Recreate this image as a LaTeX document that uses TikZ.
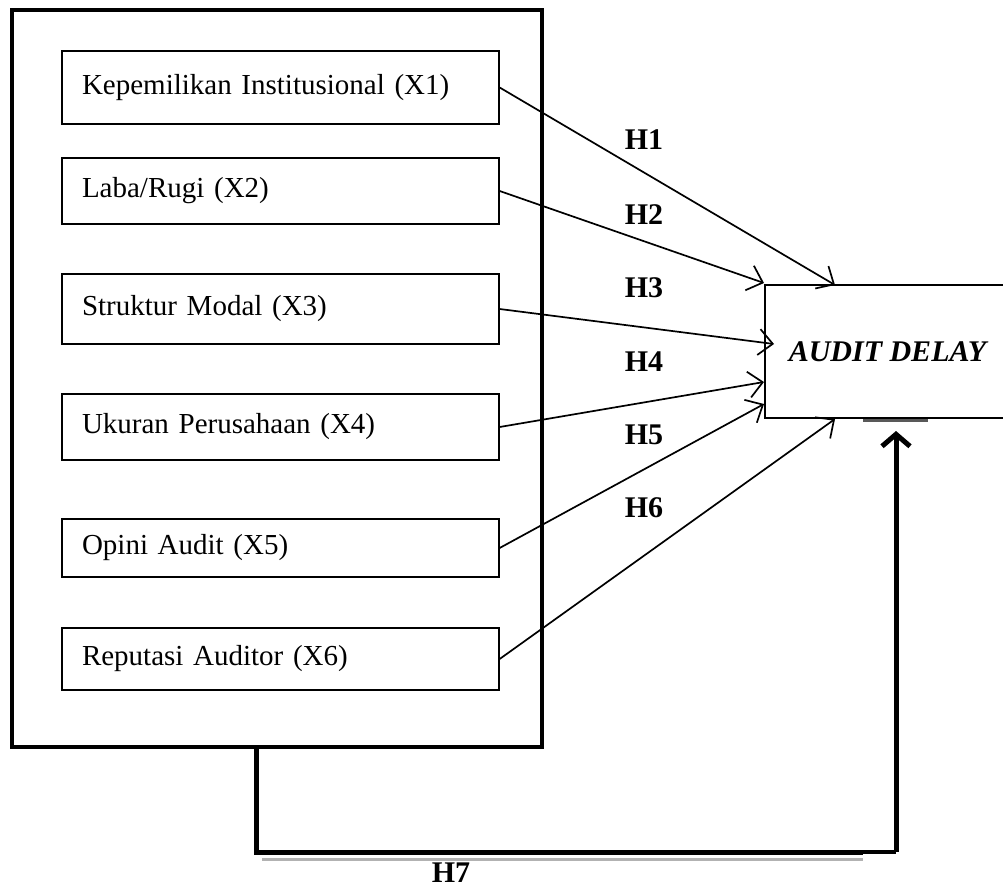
\documentclass[tikz,border=0pt]{standalone}
\usepackage{fontspec}
\setmainfont{Liberation Serif}
\usetikzlibrary{arrows.meta}
\begin{document}
\begin{tikzpicture}[x=1pt,y=-1pt,
  varbox/.style={draw,line width=1.3pt,minimum width=437pt,inner sep=0pt,
    text width=397pt,align=left,font=\fontsize{29}{33}\selectfont},
  hyp/.style={font=\fontsize{30}{34}\selectfont\bfseries},
  thinarrow/.style={line width=1.7pt,-{Straight Barb[length=14pt,width=26pt]}},
  bigarrow/.style={line width=5pt,-{Straight Barb[length=12pt,width=28pt]}}]
\useasboundingbox (0,0) rectangle (1003,890);
% outer frame
\node[draw,line width=4.5pt,minimum width=530pt,minimum height=737pt,inner sep=0pt] (frame) at (277,378.5) {};
% variable boxes
\node[varbox,minimum height=73pt] (b1) at (280.5,87.5) {Kepemilikan Institusional (X1)};
\node[varbox,minimum height=66pt] (b2) at (280.5,191) {Laba/Rugi (X2)};
\node[varbox,minimum height=70pt] (b3) at (280.5,309) {Struktur Modal (X3)};
\node[varbox,minimum height=66pt] (b4) at (280.5,427) {Ukuran Perusahaan (X4)};
\node[varbox,minimum height=58pt] (b5) at (280.5,548) {Opini Audit (X5)};
\node[varbox,minimum height=62pt] (b6) at (280.5,659) {Reputasi Auditor (X6)};
% dependent variable
\node[draw,line width=1.5pt,minimum width=245pt,minimum height=133pt,inner sep=0pt,
  font=\fontsize{30}{34}\selectfont\bfseries\itshape] (ad) at (887.5,351.5) {AUDIT DELAY};
\draw[gray!70!black,line width=3pt] (863,420.5) -- (928,420.5);
% arrow end points
\coordinate (e1) at (835,285);
\coordinate (e2) at (764,283);
\coordinate (e3) at (774,344);
\coordinate (e4) at (764,382);
\coordinate (e5) at (764,404);
\coordinate (e6) at (835,419);
\draw[thinarrow] (b1.east) -- (e1);
\draw[thinarrow] (b2.east) -- (e2);
\draw[thinarrow] (b3.east) -- (e3);
\draw[thinarrow] (b4.east) -- (e4);
\draw[thinarrow] (b5.east) -- (e5);
\draw[thinarrow] (b6.east) -- (e6);
% hypothesis labels
\node[hyp] (h1) at (644,140) {H1};
\node[hyp] (h2) at (644,215) {H2};
\node[hyp] (h3) at (644,288) {H3};
\node[hyp] (h4) at (644,362) {H4};
\node[hyp] (h5) at (644,435) {H5};
\node[hyp] (h6) at (644,508) {H6};
% H7 path
\coordinate (s7) at (256,747);
\coordinate (c1) at (256,852);
\coordinate (c2) at (863,852);
\coordinate (c3) at (896,852);
\coordinate (t7) at (896,431);
\draw[gray!60,line width=3pt] (262,859.5) -- (863,859.5);
\draw[line width=5pt] (s7) -- (c1) -- (c2);
\draw[line width=3.5pt] (c2) -- (c3);
\draw[bigarrow] (c3) -- (t7);
\node[hyp,inner sep=1pt] (h7) at (451,873) {H7};
\end{tikzpicture}
\end{document}
